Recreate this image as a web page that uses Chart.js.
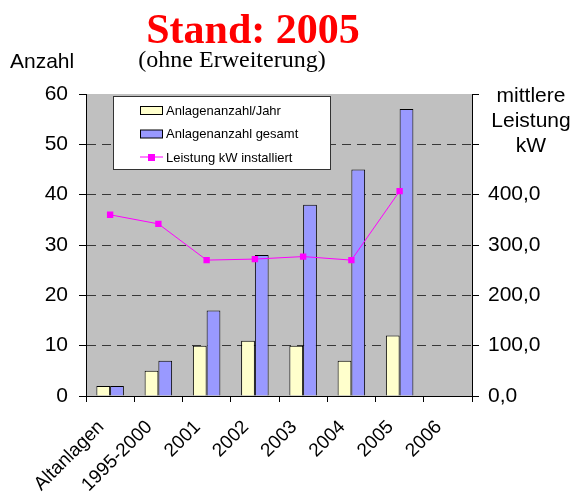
<!DOCTYPE html>
<html>
<head>
<meta charset="utf-8">
<script src="https://cdn.jsdelivr.net/npm/chart.js@4.4.1/dist/chart.umd.min.js"></script>
<style>
  html, body { margin: 0; padding: 0; background: #fff; }
  #wrap { width: 571px; height: 494px; position: relative; }
</style>
</head>
<body>
<div id="wrap"><canvas id="standChart" width="571" height="494"></canvas></div>
<script>
// data
const categories = ['Altanlagen', '1995-2000', '2001', '2002', '2003', '2004', '2005', '2006'];
const anlagenJahr = [2, 5, 10, 11, 10, 7, 12, null];
const anlagenGesamt = [2, 7, 17, 28, 38, 45, 57, null];
const leistungKW = [360, 342, 270, 272, 277, 270, 407, null];
const legendLabels = ['Anlagenanzahl/Jahr', 'Anlagenanzahl gesamt', 'Leistung kW installiert'];

const SANS = '"Liberation Sans", Arial, sans-serif';
const SERIF = '"Liberation Serif", "Times New Roman", serif';

// grey plot background
const plotBackground = {
    id: 'plotBackground',
    beforeDraw(chart) {
        const a = chart.chartArea;
        const ctx = chart.ctx;
        ctx.save();
        ctx.fillStyle = '#c0c0c0';
        ctx.fillRect(a.left, a.top, a.right - a.left, a.bottom - a.top);
        ctx.restore();
    }
};

// titles, axis captions and the boxed legend inside the plot
const extraText = {
    id: 'extraText',
    afterDraw(chart) {
        const ctx = chart.ctx;
        const a = chart.chartArea;
        ctx.save();

        ctx.fillStyle = '#ff0000';
        ctx.font = 'bold 42px ' + SERIF;
        ctx.textAlign = 'center';
        ctx.textBaseline = 'alphabetic';
        ctx.fillText('Stand: 2005', 253, 43);

        ctx.fillStyle = '#000';
        ctx.font = '24px ' + SERIF;
        ctx.fillText('(ohne Erweiterung)', 232, 67);

        ctx.font = '21px ' + SANS;
        ctx.textAlign = 'left';
        ctx.textBaseline = 'middle';
        ctx.fillText('Anzahl', 10, 62);

        ctx.textAlign = 'center';
        ['mittlere', 'Leistung', 'kW'].forEach((t, i) => {
            ctx.fillText(t, 531, 96 + i * 25);
        });

        // legend
        const lx = a.left + 27, ly = a.top + 2;
        ctx.fillStyle = '#fff';
        ctx.fillRect(lx, ly, 217, 73);
        ctx.strokeStyle = '#333';
        ctx.lineWidth = 1;
        ctx.strokeRect(lx + 0.5, ly + 0.5, 217, 73);

        const ds = chart.data.datasets;
        const rows = [ds[1], ds[2], ds[0]];
        ctx.font = '13px ' + SANS;
        ctx.textAlign = 'left';
        rows.forEach((d, i) => {
            const cy = ly + 14 + i * 23.5;
            if (d.type === 'line') {
                ctx.strokeStyle = d.borderColor;
                ctx.beginPath();
                ctx.moveTo(lx + 27, cy);
                ctx.lineTo(lx + 50, cy);
                ctx.stroke();
                ctx.fillStyle = d.backgroundColor;
                ctx.fillRect(lx + 35, cy - 3, 7, 7);
            } else {
                ctx.fillStyle = d.backgroundColor;
                ctx.fillRect(lx + 27.5, cy - 3.5, 22, 8);
                ctx.strokeStyle = '#000';
                ctx.strokeRect(lx + 27.5, cy - 3.5, 22, 8);
            }
            ctx.fillStyle = '#000';
            ctx.fillText(legendLabels[i], lx + 53, cy + 1);
        });
        ctx.restore();
    }
};

const ctx = document.getElementById('standChart');
const standChart = new Chart(ctx, {
    data: {
        labels: categories,
        datasets: [{
            type: 'line',
            label: legendLabels[2],
            data: leistungKW,
            yAxisID: 'yR',
            borderColor: '#ff00ff',
            backgroundColor: '#ff00ff',
            borderWidth: 1,
            pointStyle: 'rect',
            pointRadius: 4.5,
            pointBorderWidth: 0,
            order: 0
        }, {
            type: 'bar',
            label: legendLabels[0],
            data: anlagenJahr,
            yAxisID: 'y',
            backgroundColor: '#ffffcc',
            borderColor: '#000',
            borderWidth: 1,
            order: 1
        }, {
            type: 'bar',
            label: legendLabels[1],
            data: anlagenGesamt,
            yAxisID: 'y',
            backgroundColor: '#9999ff',
            borderColor: '#000',
            borderWidth: 1,
            order: 2
        }]
    },
    options: {
        responsive: false,
        animation: false,
        layout: { padding: { top: 94, left: 0, right: 0, bottom: 0 } },
        datasets: {
            bar: { categoryPercentage: 0.57, barPercentage: 1.0 }
        },
        plugins: {
            legend: { display: false },
            tooltip: { enabled: false },
            title: { display: false }
        },
        scales: {
            x: {
                offset: true,
                grid: {
                    offset: true,
                    drawOnChartArea: false,
                    drawTicks: true,
                    tickLength: 6,
                    tickColor: '#000'
                },
                border: { color: '#000', width: 1 },
                ticks: {
                    minRotation: 45,
                    maxRotation: 45,
                    autoSkip: false,
                    padding: 14,
                    labelOffset: -9,
                    color: '#000',
                    font: { family: SANS, size: 19 }
                },
                afterFit(scale) { scale.height = 98; }
            },
            y: {
                position: 'left',
                min: 0,
                max: 60,
                ticks: {
                    stepSize: 10,
                    padding: 11,
                    color: '#000',
                    font: { family: SANS, size: 21 }
                },
                grid: {
                    color: (c) => (c.tick && (c.tick.value === 0 || c.tick.value === 60)) ? 'rgba(0,0,0,0)' : '#383838',
                    tickBorderDash: [],
                    tickColor: '#000',
                    tickLength: 7
                },
                border: { color: '#000', width: 1, dash: [9, 6] },
                afterFit(scale) { scale.width = 86; }
            },
            yR: {
                position: 'right',
                min: 0,
                max: 600,
                ticks: {
                    stepSize: 100,
                    padding: 9,
                    color: '#000',
                    font: { family: SANS, size: 21 },
                    callback: (v) => v <= 400 ? v.toFixed(1).replace('.', ',') : ''
                },
                grid: {
                    drawOnChartArea: false,
                    tickColor: '#000',
                    tickLength: 7
                },
                border: { color: '#000', width: 1 },
                afterFit(scale) { scale.width = 99; }
            }
        }
    },
    plugins: [plotBackground, extraText]
});
</script>
</body>
</html>
